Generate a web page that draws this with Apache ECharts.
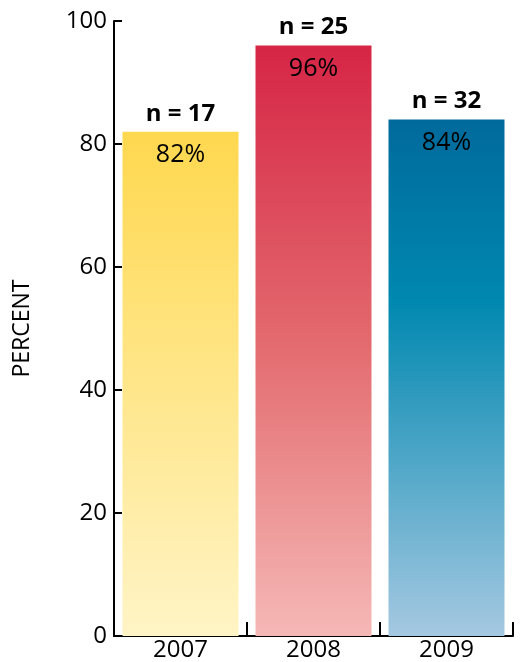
<!DOCTYPE html>
<html>
<head>
<meta charset="utf-8">
<script src="https://cdn.jsdelivr.net/npm/echarts@6/dist/echarts.min.js"></script>
<style>html,body{margin:0;padding:0;background:#fff;}#c{width:520px;height:662px;}</style>
</head>
<body>
<div id="c"></div>
<script>
var categories = ['2007', '2008', '2009'];
var percentValues = [82, 96, 84];
var nValues = [17, 25, 32];
var yTicks = [0, 20, 40, 60, 80, 100];

var gradients = [
  [[0, '#FFD84F'], [0.5, '#FFE68A'], [1, '#FFF4C6']],
  [[0, '#D62546'], [0.5, '#E36A6E'], [1, '#F5B8B6']],
  [[0, '#006A9C'], [0.35, '#0088B0'], [1, '#A5C8E1']]
];

var FONT = 'Open Sans';
var chart = echarts.init(document.getElementById('c'), null, {renderer: 'canvas'});
chart.setOption({
  animation: false,
  grid: {left: 114, right: 7, top: 21, bottom: 26},
  xAxis: {
    type: 'category',
    data: categories,
    axisLine: {lineStyle: {color: '#000', width: 2}},
    axisTick: {show: true, inside: true, length: 14, lineStyle: {color: '#000', width: 2}},
    axisLabel: {color: '#000', fontSize: 24, fontFamily: FONT, margin: 2}
  },
  yAxis: {
    type: 'value',
    min: 0, max: 100, interval: 20,
    name: 'PERCENT',
    nameLocation: 'middle',
    nameGap: 80,
    nameTextStyle: {color: '#000', fontSize: 23, fontFamily: FONT},
    axisLine: {show: true, lineStyle: {color: '#000', width: 2}},
    axisTick: {show: true, inside: true, length: 8, lineStyle: {color: '#000', width: 2}},
    axisLabel: {color: '#000', fontSize: 24, fontFamily: FONT, margin: 7,
      formatter: function (v) { return yTicks.indexOf(v) >= 0 ? String(v) : ''; }},
    splitLine: {show: false}
  },
  series: [
    {
      type: 'bar',
      barWidth: 116,
      data: percentValues.map(function (v, i) {
        return {
          value: v,
          itemStyle: {
            color: new echarts.graphic.LinearGradient(0, 0, 0, 1, gradients[i].map(function (s) {
              return {offset: s[0], color: s[1]};
            }))
          }
        };
      }),
      label: {
        show: true, position: 'insideTop', distance: 11,
        color: '#000', fontSize: 25, fontFamily: FONT,
        formatter: function (p) { return p.value + '%'; }
      }
    },
    {
      type: 'bar',
      barWidth: 116,
      barGap: '-100%',
      silent: true,
      itemStyle: {color: 'rgba(0,0,0,0)'},
      data: percentValues,
      label: {
        show: true, position: 'top', distance: 6,
        color: '#000', fontSize: 24, fontWeight: 'bold', fontFamily: FONT,
        formatter: function (p) { return 'n = ' + nValues[p.dataIndex]; }
      }
    }
  ]
});
</script>
</body>
</html>
